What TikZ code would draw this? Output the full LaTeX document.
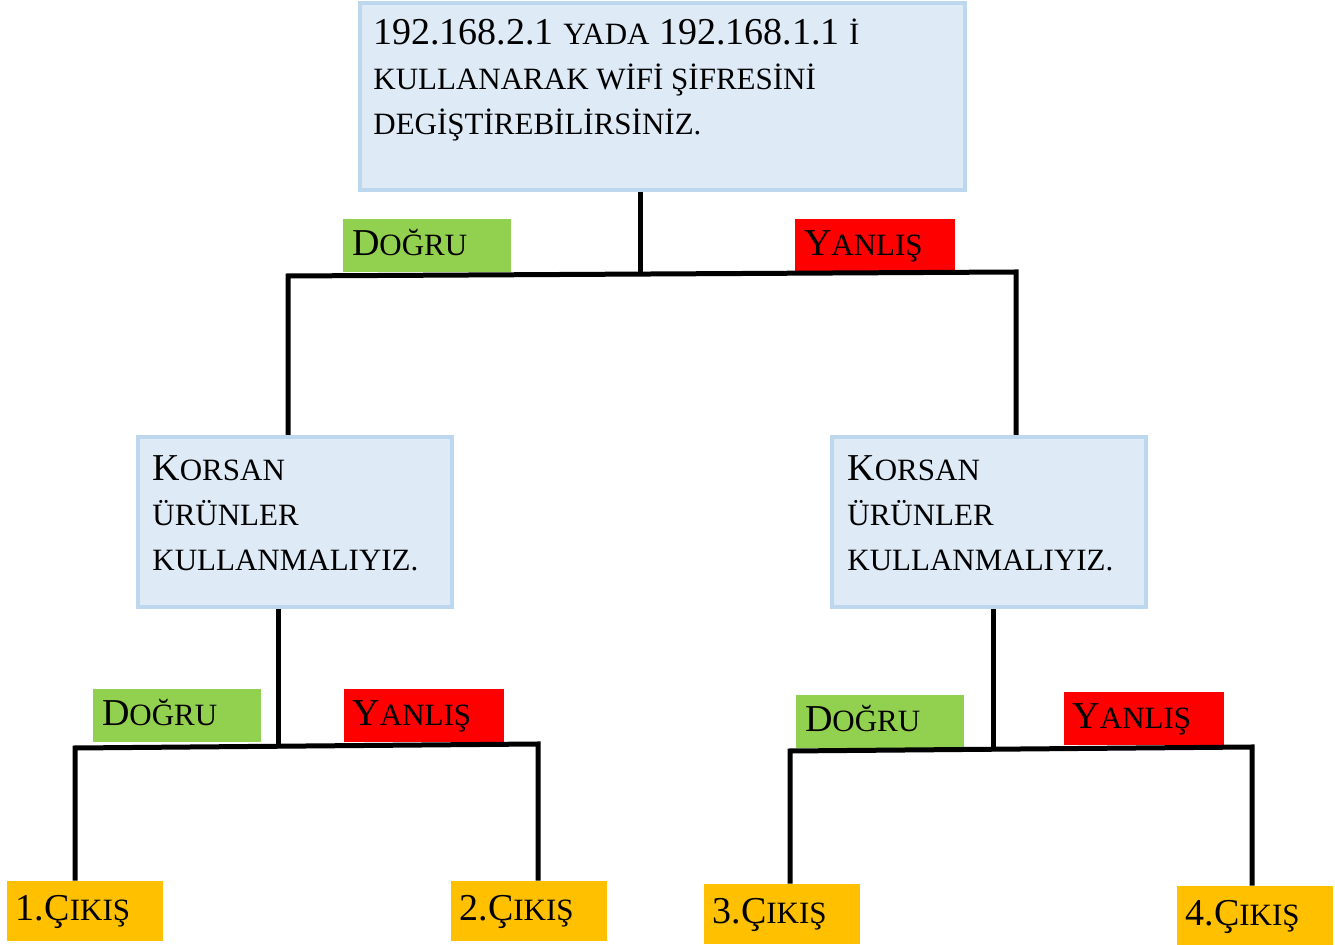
\documentclass[tikz,border=0pt]{standalone}
\usepackage{fontspec}
\setmainfont{Liberation Serif}

\definecolor{kutudolgu}{HTML}{DEEAF6}
\definecolor{kutukenar}{HTML}{BDD7EE}
\definecolor{yesil}{HTML}{92D050}
\definecolor{kirmizi}{HTML}{FF0000}
\definecolor{turuncu}{HTML}{FFC000}

\newcommand\kucuk[1]{{\fontsize{15.5}{22.5}\selectfont #1}}

\tikzset{
  kutu/.style={draw=kutukenar, line width=2pt, fill=kutudolgu},
  yazi/.style={anchor=base west, inner sep=0pt, align=left, font=\fontsize{19}{22.5}\selectfont},
  etiket/.style={inner ysep=0pt, inner xsep=4.5pt, align=left, font=\fontsize{19}{22.5}\selectfont, text height=13pt, text depth=3pt},
  evet/.style={etiket, fill=yesil, text width=75pt, minimum height=26.5pt},
  hayir/.style={etiket, fill=kirmizi, text width=71pt, minimum height=26.5pt},
  cikis/.style={etiket, fill=turuncu, text width=69pt, minimum height=30pt},
  cizgi/.style={line width=2.5pt, line join=miter}
}

\begin{document}
\begin{tikzpicture}[x=0.5pt, y=-0.5pt]
\useasboundingbox (0,0) rectangle (1335,945);

% kutular
\node[kutu, minimum width=302.5pt, minimum height=93.5pt] (soru) at (662.5,96.5) {};
\node[yazi] (soruyazi) at (373,135) {192.168.2.1 \kucuk{YADA} 192.168.1.1 \kucuk{İ}\\
  \kucuk{KULLANARAK WİFİ ŞİFRESİNİ}\\
  \kucuk{DEGİŞTİREBİLİRSİNİZ.}};
\node[kutu, minimum width=157pt, minimum height=85pt] (sol) at (295,522) {};
\node[yazi] (solyazi) at (152,571) {K\kucuk{ORSAN}\\ \kucuk{ÜRÜNLER}\\ \kucuk{KULLANMALIYIZ.}};
\node[kutu, minimum width=157pt, minimum height=85pt] (sag) at (989,522) {};
\node[yazi] (sagyazi) at (847,571) {K\kucuk{ORSAN}\\ \kucuk{ÜRÜNLER}\\ \kucuk{KULLANMALIYIZ.}};

% etiketler
\node[evet] (d1) at (427,245.5) {D\kucuk{OĞRU}};
\node[hayir] (y1) at (875,245.5) {Y\kucuk{ANLIŞ}};
\node[evet] (d2) at (177,716) {D\kucuk{OĞRU}};
\node[hayir] (y2) at (423.5,715.5) {Y\kucuk{ANLIŞ}};
\node[evet] (d3) at (880,721.5) {D\kucuk{OĞRU}};
\node[hayir] (y3) at (1143.5,718.5) {Y\kucuk{ANLIŞ}};

% cikislar
\node[cikis] (c1) at (85,911) {1.Ç\kucuk{IKIŞ}};
\node[cikis] (c2) at (528.5,911) {2.Ç\kucuk{IKIŞ}};
\node[cikis] (c3) at (781.5,914) {3.Ç\kucuk{IKIŞ}};
\node[cikis] (c4) at (1254.5,916) {4.Ç\kucuk{IKIŞ}};

% cizgiler
\coordinate (j1) at (640,275);
\coordinate (k1) at (288,276);
\coordinate (k2) at (1016,272);
\draw[cizgi] (soru.south -| j1) -- (j1);
\draw[cizgi] (k1 |- sol.north) -- (k1) -- (k2) -- (k2 |- sag.north);

\coordinate (j2) at (278,747);
\coordinate (k3) at (75,748);
\coordinate (k4) at (538,744);
\draw[cizgi] (sol.south -| j2) -- (j2);
\draw[cizgi] (k3 |- c1.north) -- (k3) -- (k4) -- (k4 |- c2.north);

\coordinate (j3) at (993,750);
\coordinate (k5) at (790,751);
\coordinate (k6) at (1252,747);
\draw[cizgi] (sag.south -| j3) -- (j3);
\draw[cizgi] (k5 |- c3.north) -- (k5) -- (k6) -- (k6 |- c4.north);
\end{tikzpicture}
\end{document}
